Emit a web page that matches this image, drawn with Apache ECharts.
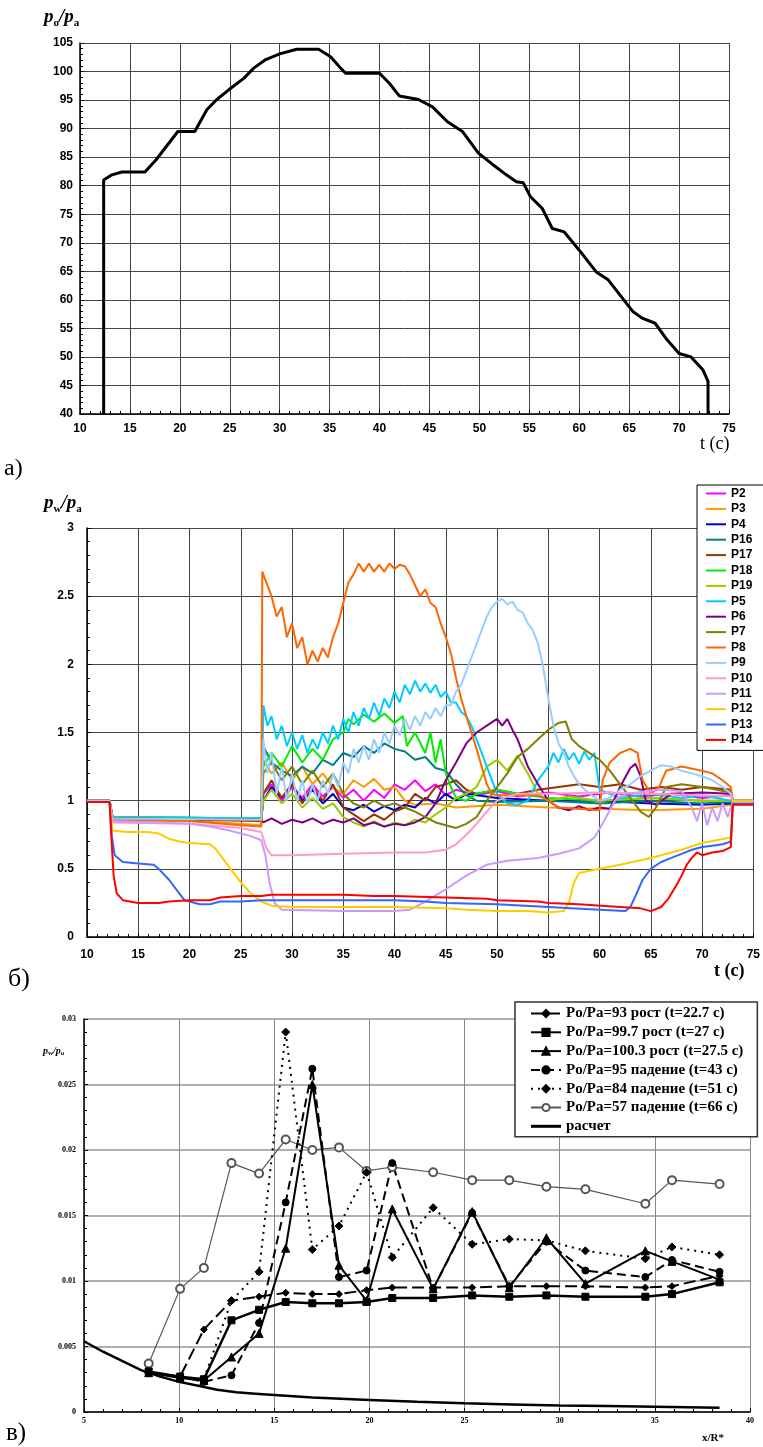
<!DOCTYPE html>
<html>
<head>
<meta charset="utf-8">
<script src="https://cdn.jsdelivr.net/npm/echarts@6.0.0/dist/echarts.min.js"></script>
<style>
html, body { margin: 0; padding: 0; background: #fff; }
#main { width: 763px; height: 1447px; }
</style>
</head>
<body>
<div id="main"></div>
<script>
// ---- panel a: p0/pa over time ----
var tA = [12.37, 12.37, 13.2, 14.2, 16.5, 17.6, 19.8, 21.5, 22.7, 23.7, 24.9, 26.4, 27.4, 28.6, 30.0, 31.7, 33.9, 35.1, 36.1, 36.6, 40.0, 41.0, 42.0, 43.9, 45.3, 46.8, 48.3, 49.9, 51.2, 52.7, 53.7, 54.4, 55.1, 56.3, 57.3, 58.5, 60.0, 61.7, 62.9, 65.4, 66.3, 67.6, 68.8, 70.0, 71.2, 72.4, 72.9, 72.9];
var poA = [40, 81.0, 81.9, 82.4, 82.4, 84.5, 89.5, 89.5, 93.3, 95.1, 96.8, 98.8, 100.6, 102.1, 103.1, 103.9, 103.9, 102.6, 100.6, 99.7, 99.7, 97.9, 95.7, 95.1, 93.8, 91.2, 89.5, 85.7, 83.9, 81.9, 80.7, 80.5, 78.1, 76.0, 72.5, 71.9, 68.7, 64.9, 63.5, 57.9, 56.8, 55.9, 53.0, 50.6, 50.0, 47.7, 45.7, 40];

// ---- panel b: pw/pa of each gauge, [t, value] ----
var pNames = ['P2', 'P3', 'P4', 'P16', 'P17', 'P18', 'P19', 'P5', 'P6', 'P7', 'P8', 'P9', 'P10', 'P11', 'P12', 'P13', 'P14'];
var pColors = ['#ff00ff', '#ff9900', '#0000cc', '#008080', '#993300', '#00ee00', '#99cc00', '#00ccff', '#800080', '#808000', '#ff6600', '#99ccff', '#ff99cc', '#cc99ff', '#ffcc00', '#3366ff', '#ff0000'];

var P2 = [[10,0.99],[12.2,0.99],[12.5,0.87],[20,0.87],[27,0.86],[27.2,1.05],[28,1.12],[29,1.0],[30,1.1],[31,1.02],[32,1.12],[33,1.03],[34,1.1],[35,1.02],[36,1.08],[37,1.0],[38,1.08],[39,1.02],[40,1.12],[41,1.08],[42,1.15],[43,1.07],[44,1.12],[45,1.04],[46,1.08],[48,1.04],[50,1.07],[52,1.03],[55,1.06],[58,1.03],[61,1.06],[64,1.03],[67,1.05],[70,1.02],[72.8,1.04],[73,1.0],[75,1.0]];
var P3 = [[10,0.99],[12.2,0.99],[12.5,0.86],[20,0.85],[25,0.83],[27,0.82],[27.2,1.3],[28,1.2],[29,1.28],[30,1.15],[31,1.25],[32,1.12],[33,1.2],[34,1.1],[35,1.05],[36,1.15],[37,1.1],[38,1.16],[39,1.08],[40,1.1],[41,1.0],[42,0.97],[44,0.98],[46,0.95],[50,0.97],[55,0.95],[60,0.94],[65,0.93],[70,0.94],[72.8,0.97],[73,1.0],[75,1.0]];
var P4 = [[10,0.99],[12.2,0.99],[12.5,0.87],[27,0.86],[27.2,1.0],[28,1.1],[29,1.02],[30,1.12],[31,1.0],[32,1.08],[33,0.98],[34,1.05],[35,0.95],[36,0.93],[37,0.97],[38,0.92],[39,0.96],[40,0.93],[41,0.97],[42,0.95],[43,1.02],[44,0.98],[45,1.05],[46,1.0],[47,1.05],[50,1.02],[55,1.0],[60,1.0],[65,0.98],[70,0.97],[72.8,0.98],[73,1.0],[75,1.0]];
var P16 = [[10,1.0],[12.2,1.0],[12.5,0.88],[27,0.87],[27.2,1.4],[28,1.28],[29,1.22],[30,1.18],[31,1.25],[32,1.2],[33,1.3],[34,1.26],[35,1.35],[36,1.32],[37,1.4],[38,1.35],[39,1.42],[40,1.38],[41,1.36],[42,1.3],[43,1.32],[44,1.24],[45,1.22],[46,1.12],[47,1.04],[48,1.0],[50,0.99],[55,1.0],[60,0.98],[65,1.0],[70,0.98],[72.8,0.99],[73,1.0],[75,1.0]];
var P17 = [[10,1.0],[12.2,1.0],[12.5,0.87],[27,0.85],[27.2,1.05],[28,1.15],[29,1.02],[30,1.12],[31,0.98],[32,1.1],[33,1.0],[34,1.12],[35,0.95],[36,0.9],[37,0.85],[38,0.9],[39,0.86],[40,0.92],[41,0.95],[42,1.05],[43,1.0],[44,1.1],[45,1.12],[46,1.15],[47,1.08],[48,1.05],[50,1.08],[52,1.05],[54,1.08],[56,1.1],[58,1.12],[60,1.1],[62,1.12],[64,1.08],[66,1.1],[68,1.08],[70,1.1],[72.8,1.08],[73,1.0],[75,1.0]];
var P18 = [[10,1.0],[12.2,1.0],[12.5,0.88],[27,0.87],[27.2,1.25],[28,1.35],[29,1.25],[30,1.4],[31,1.28],[32,1.38],[33,1.3],[34,1.45],[35,1.5],[35.5,1.6],[36,1.56],[37,1.63],[38,1.58],[39,1.64],[40,1.57],[40.8,1.62],[41.2,1.4],[42,1.5],[43,1.35],[43.5,1.5],[44,1.28],[44.5,1.45],[45,1.2],[45.5,1.1],[46,1.02],[47,1.0],[48,1.05],[50,1.08],[52,1.05],[55,1.02],[60,1.0],[65,1.02],[70,1.0],[72.8,1.0],[73,1.0],[75,1.0]];
var P19 = [[10,1.0],[12.2,1.0],[12.5,0.88],[27,0.87],[27.2,1.0],[28,1.08],[29,0.98],[30,1.05],[31,0.95],[32,1.02],[33,0.94],[34,0.98],[35,0.88],[36,0.84],[37,0.81],[38,0.85],[39,0.81],[40,0.84],[41,0.82],[42,0.86],[43,0.84],[44,0.9],[45,0.95],[46,1.02],[47,1.05],[48,1.1],[49,1.25],[50,1.3],[51,1.22],[52,1.33],[53,1.2],[54,1.05],[55,1.0],[57,1.03],[60,1.0],[65,1.02],[70,1.0],[72.8,1.0],[73,1.0],[75,1.0]];
var P5 = [[10,1.0],[12.2,1.0],[12.5,0.88],[27,0.87],[27.2,1.7],[27.6,1.55],[28,1.62],[28.5,1.45],[29,1.55],[29.5,1.4],[30,1.5],[30.5,1.38],[31,1.48],[31.5,1.35],[32,1.45],[32.5,1.38],[33,1.5],[33.5,1.42],[34,1.55],[34.5,1.45],[35,1.6],[35.5,1.5],[36,1.65],[36.5,1.55],[37,1.68],[37.5,1.6],[38,1.72],[38.5,1.62],[39,1.75],[39.5,1.68],[40,1.8],[40.5,1.72],[41,1.85],[41.5,1.78],[42,1.88],[42.5,1.8],[43,1.86],[43.5,1.79],[44,1.85],[44.5,1.76],[45,1.8],[45.5,1.72],[46,1.72],[46.5,1.65],[47,1.62],[47.5,1.55],[48,1.45],[48.5,1.35],[49,1.25],[49.5,1.15],[50,1.05],[51,0.98],[52,0.97],[53,1.0],[54,1.15],[55,1.25],[55.5,1.35],[56,1.28],[56.5,1.38],[57,1.3],[57.5,1.35],[58,1.27],[58.5,1.36],[59,1.3],[59.5,1.35],[60,1.08],[62,1.02],[65,1.05],[68,1.02],[70,1.04],[72.8,1.0],[73,1.0],[75,1.0]];
var P6 = [[10,1.0],[12.2,1.0],[12.5,0.87],[27,0.86],[27.2,0.84],[28,0.87],[29,0.83],[30,0.86],[31,0.84],[32,0.87],[33,0.83],[34,0.86],[35,0.84],[36,0.87],[37,0.82],[38,0.84],[39,0.81],[40,0.83],[41,0.82],[42,0.84],[43,0.88],[44,0.98],[45,1.15],[46,1.28],[47,1.42],[48,1.5],[49,1.55],[50,1.6],[50.5,1.55],[51,1.6],[51.5,1.52],[52,1.45],[52.5,1.35],[53,1.25],[54,1.12],[55,1.0],[56,0.95],[57,0.93],[58,0.96],[59,0.93],[60,0.95],[61,0.94],[62,1.1],[63,1.24],[63.5,1.27],[64,1.18],[64.5,1.0],[65.5,0.97],[67,1.05],[70,1.06],[72.8,1.05],[73,1.0],[75,1.0]];
var P7 = [[10,1.0],[12.2,1.0],[12.5,0.87],[27,0.86],[27.2,1.2],[28,1.28],[29,1.15],[30,1.25],[31,1.12],[32,1.22],[33,1.1],[34,1.2],[35,1.05],[36,0.98],[37,0.95],[38,1.0],[39,0.96],[40,0.98],[41,0.95],[42,0.92],[43,0.88],[44,0.84],[45,0.82],[46,0.8],[47,0.83],[48,0.88],[49,1.0],[50,1.1],[51,1.2],[52,1.32],[53,1.38],[54,1.45],[55,1.52],[56,1.57],[56.7,1.58],[57.3,1.45],[58,1.4],[59,1.35],[60,1.3],[61,1.22],[62,1.12],[63,1.02],[64,0.92],[64.8,0.88],[65.5,0.95],[66.5,1.1],[68,1.12],[70,1.1],[72.8,1.06],[73,1.0],[75,1.0]];
var P8 = [[10,0.99],[12.2,0.99],[12.5,0.86],[20,0.85],[25,0.82],[27,0.81],[27.1,2.68],[27.5,2.6],[28,2.5],[28.5,2.35],[29,2.42],[29.5,2.2],[30,2.3],[30.5,2.12],[31,2.2],[31.5,2.0],[32,2.1],[32.5,2.02],[33,2.12],[33.5,2.05],[34,2.2],[34.5,2.3],[35,2.45],[35.5,2.6],[36,2.66],[36.5,2.74],[37,2.68],[37.5,2.74],[38,2.68],[38.5,2.73],[39,2.68],[39.5,2.74],[40,2.7],[40.5,2.73],[41,2.72],[41.5,2.66],[42,2.58],[42.5,2.5],[43,2.55],[43.5,2.45],[44,2.42],[44.5,2.3],[45,2.2],[45.5,2.08],[46,1.9],[46.5,1.75],[47,1.62],[47.5,1.5],[48,1.38],[48.5,1.25],[49,1.12],[49.5,1.05],[50,1.04],[54,1.04],[55,1.0],[56,0.95],[60,0.93],[60.3,1.15],[61,1.28],[62,1.35],[63,1.38],[63.7,1.35],[64.2,1.15],[65,1.05],[65.8,1.1],[66.5,1.22],[68,1.25],[70,1.22],[71,1.2],[72,1.15],[72.8,1.1],[73,1.0],[75,1.0]];
var P9 = [[10,1.0],[12.2,1.0],[12.5,0.87],[27,0.86],[27.2,1.45],[27.6,1.2],[28,1.35],[28.5,1.05],[29,1.25],[29.5,1.0],[30,1.2],[30.5,1.0],[31,1.15],[31.5,0.98],[32,1.12],[32.5,1.0],[33,1.15],[33.5,1.05],[34,1.2],[34.5,1.1],[35,1.28],[35.5,1.2],[36,1.38],[36.5,1.28],[37,1.4],[37.5,1.3],[38,1.45],[38.5,1.35],[39,1.5],[39.5,1.42],[40,1.55],[40.5,1.48],[41,1.6],[41.5,1.52],[42,1.62],[42.5,1.55],[43,1.65],[43.5,1.6],[44,1.68],[44.5,1.62],[45,1.7],[45.5,1.7],[46,1.8],[46.5,1.85],[47,1.95],[47.5,2.05],[48,2.15],[48.5,2.25],[49,2.35],[49.5,2.42],[50,2.46],[50.5,2.48],[51,2.44],[51.5,2.46],[52,2.4],[52.5,2.38],[53,2.3],[53.5,2.25],[54,2.15],[54.5,1.98],[55,1.75],[55.5,1.55],[56,1.42],[56.5,1.35],[57,1.25],[57.5,1.18],[58,1.12],[59,1.05],[60,1.0],[61,1.02],[62,1.08],[63,1.12],[64,1.18],[65,1.22],[66,1.26],[67,1.25],[68,1.22],[69,1.2],[70,1.18],[71,1.15],[72,1.1],[72.8,1.05],[73,1.0],[75,1.0]];
var P10 = [[10,0.99],[12.2,0.99],[12.5,0.84],[20,0.83],[25,0.8],[27,0.77],[27.5,0.65],[28,0.6],[30,0.6],[35,0.61],[40,0.62],[43,0.62],[45,0.64],[46,0.68],[47,0.75],[48,0.83],[49,0.92],[50,1.0],[51,1.03],[52,1.05],[55,1.05],[60,1.06],[65,1.05],[70,1.04],[72.8,1.03],[73,1.0],[75,1.0]];
var P11 = [[10,0.99],[12.2,0.99],[12.5,0.85],[20,0.83],[22,0.81],[24,0.78],[26,0.74],[27,0.71],[27.4,0.6],[27.8,0.4],[28.3,0.25],[29,0.2],[35,0.19],[40,0.19],[41.5,0.2],[43,0.26],[45,0.35],[47,0.45],[49,0.53],[51,0.56],[54,0.58],[56,0.61],[58,0.65],[59.5,0.73],[60.5,0.86],[61.5,1.0],[62.5,1.05],[66,1.08],[68,1.07],[69,0.95],[69.5,0.85],[70,0.98],[70.5,0.82],[71,0.95],[71.5,0.85],[72,0.98],[72.5,0.88],[72.8,0.95],[73,1.0],[75,1.0]];
var P12 = [[10,0.99],[12.2,0.99],[12.5,0.78],[14,0.77],[16,0.77],[17,0.76],[18,0.72],[19,0.7],[20,0.69],[22,0.68],[22.5,0.65],[23,0.6],[24,0.5],[25,0.4],[26,0.32],[27,0.26],[28,0.23],[30,0.22],[35,0.22],[40,0.22],[45,0.21],[47,0.2],[50,0.19],[53,0.19],[55,0.18],[56.5,0.19],[57,0.25],[57.5,0.4],[58,0.47],[60,0.5],[62,0.53],[65,0.58],[68,0.64],[70,0.69],[72.8,0.73],[73,1.0],[75,1.0]];
var P13 = [[10,0.99],[12.2,0.99],[12.4,0.75],[12.7,0.6],[13.5,0.55],[15,0.54],[16.5,0.53],[17,0.5],[18,0.42],[19,0.32],[19.5,0.27],[20,0.26],[21,0.24],[22,0.24],[23,0.26],[25,0.26],[27,0.27],[30,0.27],[35,0.27],[40,0.27],[43,0.26],[45,0.25],[50,0.24],[55,0.22],[60,0.2],[62.5,0.19],[63,0.22],[63.5,0.3],[64.2,0.42],[65,0.5],[66,0.55],[67,0.58],[68,0.61],[69,0.64],[70,0.66],[71,0.67],[72,0.68],[72.8,0.7],[73,0.98],[75,0.98]];
var P14 = [[10,0.99],[12.2,0.99],[12.4,0.7],[12.6,0.45],[12.9,0.32],[13.5,0.27],[15,0.25],[17,0.25],[18,0.26],[20,0.27],[22,0.27],[23,0.29],[25,0.3],[27,0.3],[28,0.31],[35,0.31],[38,0.3],[40,0.3],[45,0.29],[49,0.28],[50,0.27],[54,0.26],[55,0.25],[58,0.24],[62,0.22],[64,0.21],[65,0.19],[66,0.22],[66.7,0.28],[67.5,0.38],[68,0.45],[68.5,0.53],[69,0.58],[69.5,0.62],[70,0.6],[71,0.62],[72,0.63],[72.8,0.66],[73,0.97],[75,0.97]];
var pData = [P2, P3, P4, P16, P17, P18, P19, P5, P6, P7, P8, P9, P10, P11, P12, P13, P14];

// ---- panel c: pw/po along x/R* ----
var xSt = [8.4, 10.05, 11.3, 12.75, 14.2, 15.6, 17.0, 18.4, 19.85, 21.2, 23.35, 25.4, 27.35, 29.3, 31.35, 34.5, 35.9, 38.4];
var c93 = [0.003, 0.0027, 0.0063, 0.0085, 0.0088, 0.0091, 0.009, 0.009, 0.0093, 0.0095, 0.0095, 0.0095, 0.0096, 0.0096, 0.0096, 0.0095, 0.0096, 0.0104];
var c997 = [0.0031, 0.0027, 0.0025, 0.007, 0.0078, 0.0084, 0.0083, 0.0083, 0.0084, 0.0087, 0.0087, 0.0089, 0.0088, 0.0089, 0.0088, 0.0088, 0.009, 0.0099];
var c1003 = [0.003, 0.0026, 0.0024, 0.0042, 0.006, 0.0125, 0.025, 0.0112, 0.0085, 0.0155, 0.0094, 0.0153, 0.0095, 0.0133, 0.0098, 0.0123, 0.0115, 0.0101];
var c95 = [0.003, 0.0027, 0.0023, 0.0028, 0.0068, 0.016, 0.0262, 0.0103, 0.0108, 0.019, 0.0094, 0.0152, 0.0096, 0.013, 0.0108, 0.0103, 0.0116, 0.0107];
var c84 = [0.003, 0.0027, 0.0025, 0.0085, 0.0107, 0.029, 0.0124, 0.0142, 0.0183, 0.0118, 0.0156, 0.0128, 0.0132, 0.0131, 0.0123, 0.0117, 0.0126, 0.012];
var c57 = [0.0037, 0.0094, 0.011, 0.019, 0.0182, 0.0208, 0.02, 0.0202, 0.0184, 0.0187, 0.0183, 0.0177, 0.0177, 0.0172, 0.017, 0.0159, 0.0177, 0.0174];
var xCalc = [5, 6, 7, 8, 9, 10, 11, 12, 13, 14, 15, 17, 20, 22.5, 25, 27.5, 30, 32.5, 35, 38.4];
var calc = [0.0054, 0.0046, 0.0039, 0.0032, 0.0027, 0.0023, 0.002, 0.0017, 0.0015, 0.0014, 0.0013, 0.0011, 0.00092, 0.00078, 0.00066, 0.00058, 0.0005, 0.00045, 0.0004, 0.00032];
var cNames = ['Po/Pa=93 рост (t=22.7 с)', 'Po/Pa=99.7 рост (t=27 с)', 'Po/Pa=100.3 рост (t=27.5 с)',
    'Po/Pa=95 падение (t=43 с)', 'Po/Pa=84 падение (t=51 с)', 'Po/Pa=57 падение (t=66 с)', 'расчет'];

function zip(xs, ys) {
    return xs.map(function(x, i) { return [x, ys[i]]; });
}

var sansBold = { color: '#000', fontFamily: 'Liberation Sans', fontWeight: 'bold', fontSize: 12 };
var serifSmall = { color: '#000', fontFamily: 'Liberation Serif', fontWeight: 'bold', fontSize: 8 };
var lineIcon = 'path://M0,0H20V2H0Z';

function axis(gi, min, max, step, label, margin, gridColor, gridWidth) {
    return {
        type: 'value', gridIndex: gi, min: min, max: max, interval: step,
        axisLine: { show: true, onZero: false, lineStyle: { color: '#000', width: 1.5 } },
        axisTick: { show: true, inside: true, length: 4, lineStyle: { color: '#000' } },
        minorTick: { show: true, splitNumber: 5, length: 3, lineStyle: { color: '#000' } },
        axisLabel: Object.assign({ margin: margin, showMinLabel: true, showMaxLabel: true }, label),
        splitLine: { show: true, lineStyle: { color: gridColor, width: gridWidth } }
    };
}

var series = [];
series.push({
    type: 'line', xAxisIndex: 0, yAxisIndex: 0, data: zip(tA, poA),
    showSymbol: false, symbol: 'none', lineStyle: { color: '#000', width: 3 }
});
pNames.forEach(function(n, i) {
    series.push({
        name: n, type: 'line', xAxisIndex: 1, yAxisIndex: 1, data: pData[i],
        showSymbol: false, symbol: 'none', color: pColors[i],
        lineStyle: { color: pColors[i], width: 2 }
    });
});

// panel c styles: marker, line dash, width, colour
var cStyle = [
    { d: c93, sym: 'diamond', size: 7, type: [12, 5], w: 2, col: '#000' },
    { d: c997, sym: 'rect', size: 7, type: 'solid', w: 2.5, col: '#000' },
    { d: c1003, sym: 'triangle', size: 8, type: 'solid', w: 2, col: '#000' },
    { d: c95, sym: 'circle', size: 7, type: [9, 5], w: 2, col: '#000' },
    { d: c84, sym: 'diamond', size: 8, type: [2, 5], w: 2, col: '#000' },
    { d: c57, sym: 'emptyCircle', size: 8, type: 'solid', w: 1.2, col: '#555' }
];
[5, 0, 1, 2, 3, 4].forEach(function(i) {
    var s = cStyle[i];
    series.push({
        name: cNames[i], type: 'line', xAxisIndex: 2, yAxisIndex: 2, data: zip(xSt, s.d),
        symbol: s.sym, symbolSize: s.size, color: s.col,
        itemStyle: { color: s.col, borderColor: s.col, borderWidth: 1 },
        lineStyle: { color: s.col, width: s.w, type: s.type }
    });
});
series.push({
    name: cNames[6], type: 'line', xAxisIndex: 2, yAxisIndex: 2, data: zip(xCalc, calc),
    showSymbol: false, symbol: 'none', color: '#000', lineStyle: { color: '#000', width: 2.5 }
});

var cLegend = cNames.map(function(n, i) {
    return i === 6 ? { name: n, icon: 'path://M0,0H30V3H0Z' } : { name: n };
});

var sub = { fontFamily: 'Liberation Serif', fontWeight: 'bold', verticalAlign: 'bottom', lineHeight: 10 };
var option = {
    animation: false,
    backgroundColor: '#fff',
    grid: [
        { left: 80, top: 43, width: 649, height: 371 },
        { left: 87, top: 528, width: 669, height: 409 },
        { left: 84, top: 1019, width: 666, height: 393 }
    ],
    xAxis: [
        axis(0, 10, 75, 5, sansBold, 9, '#444', 1),
        axis(1, 10, 75, 5, sansBold, 12, '#444', 1),
        axis(2, 5, 40, 5, serifSmall, 5, '#888', 1)
    ],
    yAxis: [
        axis(0, 40, 105, 5, sansBold, 7, '#444', 1),
        axis(1, 0, 3, 0.5, sansBold, 13, '#444', 1),
        axis(2, 0, 0.03, 0.005, serifSmall, 8, '#b0b0b0', 2)
    ],
    legend: [
        {
            data: pNames.map(function(n) { return { name: n, icon: lineIcon }; }),
            orient: 'vertical', left: 697, top: 485,
            itemWidth: 20, itemHeight: 13, itemGap: 2.4,
            padding: [2, 40, 4, 9],
            backgroundColor: '#fff', borderColor: '#000', borderWidth: 1, borderRadius: 0,
            textStyle: { fontFamily: 'Liberation Sans', fontWeight: 'bold', fontSize: 12, lineHeight: 13, color: '#000' }
        },
        {
            data: cLegend, orient: 'vertical', left: 515, top: 1002,
            itemWidth: 30, itemHeight: 9, itemGap: 3.8,
            padding: [4, 14, 3, 15],
            backgroundColor: '#fff', borderColor: '#333', borderWidth: 1.5, borderRadius: 0,
            textStyle: { fontFamily: 'Liberation Serif', fontWeight: 'bold', fontSize: 15, lineHeight: 14, color: '#000' }
        }
    ],
    graphic: [
        { type: 'text', left: 44, top: 8, style: {
            text: '{i|p}{s|o}{i|/p}{s|a}',
            rich: { i: { fontFamily: 'Liberation Serif', fontStyle: 'italic', fontWeight: 'bold', fontSize: 19, lineHeight: 22 },
                    s: Object.assign({ fontSize: 11 }, sub) } } },
        { type: 'text', left: 700, top: 435, style: { text: 't (с)', fontFamily: 'Liberation Serif', fontSize: 18, fill: '#000' } },
        { type: 'text', left: 4, top: 457, style: { text: 'а)', fontFamily: 'Liberation Serif', fontSize: 24, fill: '#000' } },
        { type: 'text', left: 44, top: 494, style: {
            text: '{i|p}{s|w}{i|/p}{s|a}',
            rich: { i: { fontFamily: 'Liberation Serif', fontStyle: 'italic', fontWeight: 'bold', fontSize: 19, lineHeight: 22 },
                    s: Object.assign({ fontSize: 11 }, sub) } } },
        { type: 'text', left: 714, top: 962, style: { text: 't (с)', fontFamily: 'Liberation Serif', fontWeight: 'bold', fontSize: 18, fill: '#000' } },
        { type: 'text', left: 8, top: 966, style: { text: 'б)', fontFamily: 'Liberation Serif', fontSize: 26, fill: '#000' } },
        { type: 'text', left: 43, top: 1046, style: {
            text: '{i|p}{s|w}{i|/p}{s|o}',
            rich: { i: { fontFamily: 'Liberation Serif', fontStyle: 'italic', fontWeight: 'bold', fontSize: 10, lineHeight: 12 },
                    s: { fontFamily: 'Liberation Serif', fontWeight: 'bold', fontSize: 7, lineHeight: 7, verticalAlign: 'bottom' } } } },
        { type: 'text', left: 702, top: 1433, style: { text: 'x/R*', fontFamily: 'Liberation Serif', fontWeight: 'bold', fontSize: 11, fill: '#000' } },
        { type: 'text', left: 6, top: 1421, style: { text: 'в)', fontFamily: 'Liberation Serif', fontSize: 25, fill: '#000' } }
    ],
    series: series
};

var chart = echarts.init(document.getElementById('main'), null, { renderer: 'canvas' });
chart.setOption(option);
</script>
</body>
</html>
